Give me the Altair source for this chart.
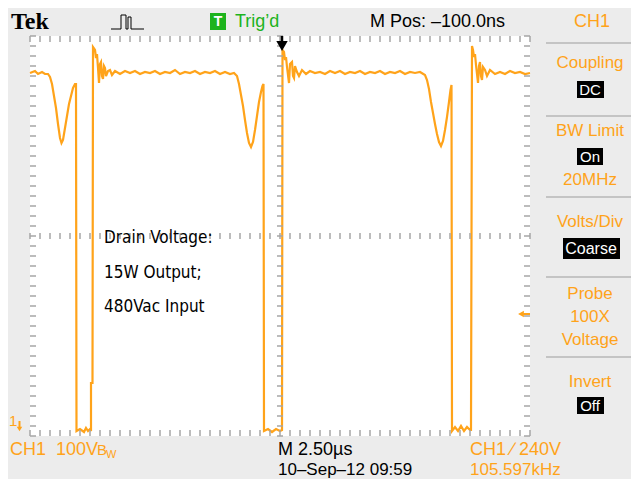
import altair as alt
import pandas as pd

# ---------------- data ----------------
# time from left edge of screen (us), drain voltage (V); 2.5 us/div, 100 V/div
T_US = [0.00, 0.25, 0.40, 0.60, 0.75, 0.90, 1.00, 1.10, 1.20, 1.30, 1.40, 1.50, 1.575, 1.65, 1.75, 1.85, 1.95, 2.05, 2.15, 2.25, 2.30,
        2.325, 2.50, 2.70, 2.80, 2.90, 3.00, 3.05, 3.05, 3.125,
        3.15, 3.25, 3.30, 3.35, 3.40, 3.45, 3.50, 3.55, 3.60, 3.65, 3.70, 3.75, 3.80, 3.90, 4.00, 4.10, 4.25,
        4.50, 4.75, 5.00, 5.25, 5.50, 5.75, 6.00, 6.25, 6.50, 6.75, 7.00, 7.25, 7.50, 7.75, 8.00, 8.25, 8.50, 8.75,
        9.00, 9.25, 9.50, 9.75, 10.00, 10.20,
        10.35, 10.45, 10.55, 10.65, 10.75, 10.85, 10.95, 11.05, 11.15, 11.25, 11.35, 11.45, 11.55, 11.625, 11.675,
        11.70, 11.90, 12.10, 12.30, 12.50, 12.60,
        12.625, 12.70, 12.75, 12.80, 12.85, 12.95, 13.00, 13.10, 13.15, 13.20, 13.25, 13.35, 13.45, 13.60, 13.80,
        14.00, 14.25, 14.50, 14.75, 15.00, 15.25, 15.50, 15.75, 16.00, 16.25, 16.50, 16.75, 17.00, 17.25, 17.50,
        17.75, 18.00, 18.25, 18.50, 18.75, 19.00, 19.25, 19.50,
        19.75, 19.85, 19.95, 20.05, 20.15, 20.25, 20.35, 20.45, 20.55, 20.65, 20.75, 20.85, 20.95, 21.025, 21.075,
        21.10, 21.25, 21.40, 21.55, 21.70, 21.85, 22.00, 22.05,
        22.10, 22.15, 22.20, 22.25, 22.30, 22.40, 22.45, 22.50, 22.55, 22.60, 22.65, 22.75, 22.85, 23.00, 23.25,
        23.50, 23.75, 24.00, 24.25, 24.50, 24.75, 25.00]
V_DRAIN = [718, 722, 716, 720, 716, 716, 710, 696, 672, 648, 616, 588, 578, 584, 608, 632, 656, 672, 688, 696, 696,
           2, 6, 0, 8, 2, 6, 2, 98, 98,
           770, 764, 748, 756, 728, 698, 736, 740, 712, 706, 732, 728, 712, 722, 724, 714, 722,
           716, 722, 718, 722, 716, 720, 718, 722, 716, 720, 718, 724, 716, 720, 718, 722, 716, 720,
           718, 722, 716, 720, 716, 718,
           712, 696, 674, 652, 624, 598, 578, 570, 580, 604, 632, 660, 680, 692, 696,
           2, 6, 0, 6, 2, 4,
           764, 760, 744, 750, 730, 698, 736, 740, 712, 708, 732, 720, 712, 724, 716,
           722, 718, 720, 716, 722, 718, 722, 716, 720, 718, 722, 716, 720, 718, 722,
           716, 720, 718, 722, 716, 720, 718, 720,
           714, 704, 686, 660, 638, 616, 596, 580, 572, 582, 604, 630, 660, 684, 694,
           2, 10, 2, 12, 2, 10, 4, 4,
           772, 764, 750, 756, 734, 698, 732, 740, 712, 704, 730, 724, 712, 724, 716,
           720, 716, 722, 718, 720, 716, 718]

X_DOMAIN = [0, 25]          # 10 div x 2.5 us
Y_DOMAIN = [-8, 792]        # 8 div x 100 V, ground marker near bottom
GRID_X = [2.5 * i for i in range(1, 10)]
GRID_Y = [-8 + 100 * i for i in range(1, 8)]
TRIG_TIME = 12.6            # us  (M Pos -100 ns)
TRIG_LEVEL = 236            # V (arrow position, trigger 240 V)

NOTE_LINES = ["Drain Voltage:", "15W Output;", "480Vac Input"]

ORANGE = "#ffa31a"
GREEN = "#1db31d"
GRIDC = "#a6a6a6"
UI_FONT = "Liberation Sans"
NOTE_FONT = "Liberation Sans Narrow, DejaVu Sans Condensed, sans-serif"

# ---------------- helpers ----------------
OX, OY = 30, 36   # page position of plot origin
one = pd.DataFrame({"a": [0]})

xs = alt.Scale(domain=X_DOMAIN, nice=False, zero=False)
ys = alt.Scale(domain=Y_DOMAIN, nice=False, zero=False)


def txt(s, px, py, color="black", size=17, align="left", font=UI_FONT, weight="normal"):
    return alt.Chart(one).mark_text(text=s, align=align, baseline="middle", fontSize=size,
                                    font=font, fontWeight=weight, color=color).encode(
        x=alt.value(px - OX), y=alt.value(py - OY))


def box(x1, x2, y1, y2, color="black"):
    return alt.Chart(one).mark_rect(color=color).encode(
        x=alt.value(x1 - OX), x2=alt.value(x2 - OX), y=alt.value(y1 - OY), y2=alt.value(y2 - OY))


def seg(x1, y1, x2, y2, color="#c4c4c4", w=2):
    return alt.Chart(one).mark_rule(color=color, strokeWidth=w).encode(
        x=alt.value(x1 - OX), x2=alt.value(x2 - OX), y=alt.value(y1 - OY), y2=alt.value(y2 - OY))


def tri(px, py, shape, size, color):
    return alt.Chart(one).mark_point(shape=shape, filled=True, color=color, size=size, opacity=1).encode(
        x=alt.value(px - OX), y=alt.value(py - OY))


# ---------------- waveform with graticule grid ----------------
wave = pd.DataFrame({"t": T_US, "v": V_DRAIN, "i": range(len(T_US))})

grid_ax = dict(grid=True, labels=False, ticks=False, domain=False, title=None,
               gridDash=[2, 8], gridDashOffset=1, gridColor=GRIDC, gridWidth=2)

line = alt.Chart(wave).mark_line(color=ORANGE, strokeWidth=2.2).encode(
    x=alt.X("t:Q", scale=xs, axis=alt.Axis(values=GRID_X, **grid_ax)),
    y=alt.Y("v:Q", scale=ys, axis=alt.Axis(values=GRID_Y, **grid_ax)),
    order="i:Q")

# graticule minor ticks (edges and centre cross)
mx = [0.5 * i for i in range(51)]
my = [-8 + 20 * i for i in range(41)]
rows = []
for x in mx:
    rows += [(x, x, -8, 4), (x, x, 780, 792), (x, x, 386, 398)]
for y in my:
    rows += [(0, 0.3, y, y), (24.7, 25, y, y), (12.35, 12.65, y, y)]
ticks = pd.DataFrame(rows, columns=["x", "x2", "y", "y2"])
tick_layer = alt.Chart(ticks).mark_rule(color=GRIDC, strokeWidth=1.5).encode(
    x=alt.X("x:Q", scale=xs, axis=None), x2="x2:Q",
    y=alt.Y("y:Q", scale=ys, axis=None), y2="y2:Q")

# trigger markers
trig = pd.DataFrame({"t": [TRIG_TIME], "v": [772], "v0": [792], "v1": [776],
                     "lvl": [TRIG_LEVEL], "th": [24.55], "ts": [24.6], "te": [25]})
trig_stem = alt.Chart(trig).mark_rule(color="black", strokeWidth=2.5).encode(
    x=alt.X("t:Q", scale=xs, axis=None), y=alt.Y("v0:Q", scale=ys, axis=None), y2="v1:Q")
trig_head = alt.Chart(trig).mark_point(shape="triangle-down", filled=True, color="black",
                                       size=130, opacity=1).encode(
    x=alt.X("t:Q", scale=xs, axis=None), y=alt.Y("v:Q", scale=ys, axis=None))
lvl_stem = alt.Chart(trig).mark_rule(color=ORANGE, strokeWidth=2).encode(
    x=alt.X("ts:Q", scale=xs, axis=None), x2="te:Q", y=alt.Y("lvl:Q", scale=ys, axis=None))
lvl_head = alt.Chart(trig).mark_point(shape="triangle-left", filled=True, color=ORANGE,
                                      size=45, opacity=1).encode(
    x=alt.X("th:Q", scale=xs, axis=None), y=alt.Y("lvl:Q", scale=ys, axis=None))

layers = [line, tick_layer, trig_stem, trig_head, lvl_stem, lvl_head]

# annotation
for k, s in enumerate(NOTE_LINES):
    layers.append(txt(s, 104, [238, 273, 307][k], size=17, font=NOTE_FONT))

# top bar
layers += [
    txt("Tek", 11, 22, size=24, font="Liberation Serif", weight="bold"),
    seg(111, 29, 121, 29, "black", 1), seg(121, 29, 121, 15, "black", 1), seg(121, 15, 126, 15, "black", 1),
    seg(126, 15, 126, 29, "black", 1), seg(128, 29, 128, 17, "black", 1), seg(128, 17, 131, 17, "black", 1),
    seg(131, 17, 131, 29, "black", 1), seg(131, 29, 144, 29, "black", 1), seg(126, 29, 128, 29, "black", 1),
    box(210, 226, 13, 30, GREEN),
    txt("T", 218, 22, color="white", size=14, align="center", weight="bold"),
    txt("Trig’d", 235, 22, color=GREEN, size=18),
    txt("M Pos: –100.0ns", 370, 22, size=18),
    txt("CH1", 592, 22, color=ORANGE, align="center", size=18),
    seg(546, 43, 631, 43),
]

# side menu
cx = 590
layers += [
    txt("Coupling", cx, 63, color=ORANGE, align="center"),
    box(577, 604, 81, 98), txt("DC", cx, 89.5, color="white", size=15, align="center"),
    seg(546, 116, 631, 116),
    txt("BW Limit", cx, 131, color=ORANGE, align="center"),
    box(577, 603, 148, 165), txt("On", cx, 156.5, color="white", size=15, align="center"),
    txt("20MHz", cx, 180, color=ORANGE, align="center"),
    seg(546, 197, 631, 197),
    txt("Volts/Div", cx, 222, color=ORANGE, align="center"),
    box(563, 620, 238, 259), txt("Coarse", 591, 248.5, color="white", size=16, align="center"),
    seg(546, 277, 631, 277),
    txt("Probe", cx, 294, color=ORANGE, align="center"),
    txt("100X", cx, 317, color=ORANGE, align="center"),
    txt("Voltage", cx, 340, color=ORANGE, align="center"),
    seg(546, 357, 631, 357),
    txt("Invert", cx, 382, color=ORANGE, align="center"),
    box(577, 604, 397, 414), txt("Off", cx, 405.5, color="white", size=15, align="center"),
]

# ground marker "1" with down arrow
layers += [txt("1", 9, 421, color=ORANGE, size=15),
           seg(19.5, 421, 19.5, 429, ORANGE, 2),
           tri(19.5, 429, "triangle-down", 30, ORANGE)]

# bottom bar
layers += [
    txt("CH1", 10, 450, color=ORANGE, size=18),
    txt("100V", 56, 450, color=ORANGE, size=18),
    txt("B", 97, 450, color=ORANGE, size=15),
    txt("W", 106, 455, color=ORANGE, size=11),
    txt("M 2.50µs", 278, 450, size=18),
    txt("10–Sep–12 09:59", 278, 470, size=17),
    txt("CH1 ∕ 240V", 470, 450, color=ORANGE, size=18),
    txt("105.597kHz", 470, 470, color=ORANGE, size=17),
]

chart = alt.layer(*layers).properties(
    width=500, height=400,
    autosize=alt.AutoSizeParams(type="none"),
    padding={"left": 22, "top": 28, "right": 101, "bottom": 43},
).configure(background="#ececec").configure_view(fill="white", strokeWidth=0)

chart.save("out.html", embed_options={"renderer": "svg", "actions": False})
